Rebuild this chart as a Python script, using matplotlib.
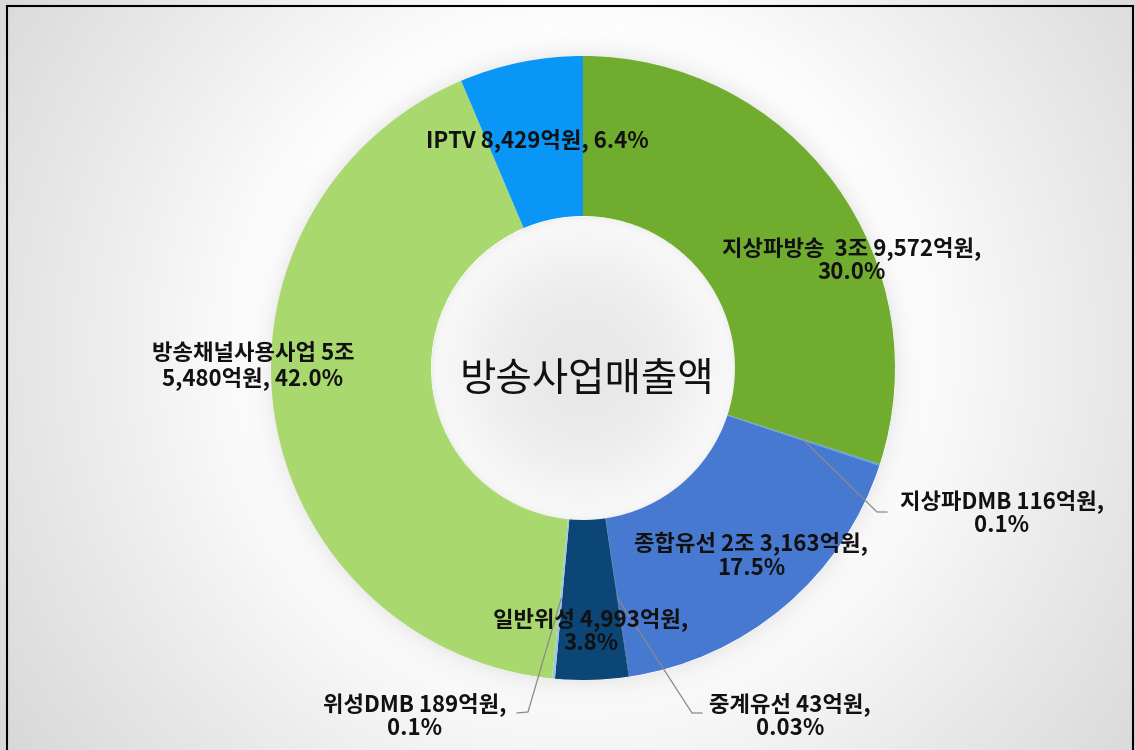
import matplotlib
matplotlib.use("Agg")
import matplotlib.pyplot as plt
import numpy as np
from matplotlib.patches import Rectangle

plt.rcParams['font.family'] = ['Noto Sans CJK KR', 'DejaVu Sans']

W, H = 1135, 750

# data (억원)
names = ["지상파방송", "지상파DMB", "종합유선", "중계유선", "일반위성", "위성DMB", "방송채널사용사업", "IPTV"]
values = [39572, 116, 23163, 43, 4993, 189, 55480, 8429]
labels = [
    "지상파방송  3조 9,572억원,\n30.0%",
    "지상파DMB 116억원,\n0.1%",
    "종합유선 2조 3,163억원,\n17.5%",
    "중계유선 43억원,\n0.03%",
    "일반위성 4,993억원,\n3.8%",
    "위성DMB 189억원,\n0.1%",
    "방송채널사용사업 5조\n5,480억원, 42.0%",
    "IPTV 8,429억원, 6.4%",
]
center_title = "방송사업매출액"

colors = ["#70AC2E", "#5B9BD5", "#4779D1", "#264478", "#0C4677", "#9DC3E6", "#A8D86E", "#0A96F7"]

# layout (image pixel coords, y down)
cx, cy, R, R_IN = 583, 368, 312, 152
label_pos = [(852, 260), (1002, 513), (751, 556), (790, 716), (591, 631), (415, 716), (253, 366), (537, 140)]
# leader lines: index -> (elbow, end)
leaders = {1: ((877, 512), (887, 512)), 3: ((692, 713), (702, 713)), 5: ((528, 712), (517, 713))}

# background: soft radial gradient, ring shadow, hole shading
yy, xx = np.mgrid[0:H, 0:W]
d = np.hypot(xx - cx, yy - (cy - 20))
bg = 1 - 0.17 * np.clip((d - 320) / 430, 0, 1) ** 0.9
dr = np.hypot(xx - cx, yy - cy)
bg -= 0.07 * np.exp(-np.clip(dr - R, 0, None) / 12) * (dr > R)
hole = dr < R_IN
bg[hole] = (0.91 + 0.075 * (dr[hole] / R_IN) ** 2) - 0.05 * np.exp(-(R_IN - dr[hole]) / 4)
bg = np.clip(bg, 0, 1)

fig = plt.figure(figsize=(W / 100, H / 100), dpi=100)
ax = fig.add_axes([0, 0, 1, 1])
ax.imshow(np.dstack([bg, bg, bg]), extent=(0, W, 0, H), origin="upper", zorder=0)

wedges, _ = ax.pie(values, colors=colors, startangle=90, counterclock=False,
                   radius=R, center=(cx, H - cy),
                   wedgeprops=dict(width=R - R_IN, linewidth=0))
for w in wedges:
    w.set_zorder(1)

# leader lines from ring middle of tiny slices
cum = np.cumsum([0] + values)
tot = cum[-1]
r_mid = (R + R_IN) / 2
for i, (elbow, end) in leaders.items():
    frac = (cum[i] + values[i] / 2) / tot
    ang = np.deg2rad(90 - 360 * frac)
    sx, sy = cx + r_mid * np.cos(ang), H - cy + r_mid * np.sin(ang)
    ax.plot([sx, elbow[0], end[0]], [sy, H - elbow[1], H - end[1]],
            color="#8a8a8a", lw=0.9, zorder=2)

for lab, (lx, ly) in zip(labels, label_pos):
    ax.text(lx, H - ly, lab, ha="center", va="center", fontsize=16,
            fontweight="bold", color="#111111", linespacing=1.1, zorder=3)

ax.text(cx + 4, H - 380, center_title, ha="center", va="center", fontsize=28.5,
        color="#111111", zorder=3)

ax.add_patch(Rectangle((7, -10), 1126, H - 6 + 10, fill=False, ec="black", lw=1.5, zorder=4))

ax.set_xlim(0, W)
ax.set_ylim(0, H)
ax.axis("off")
fig.savefig("out.png", dpi=100)
